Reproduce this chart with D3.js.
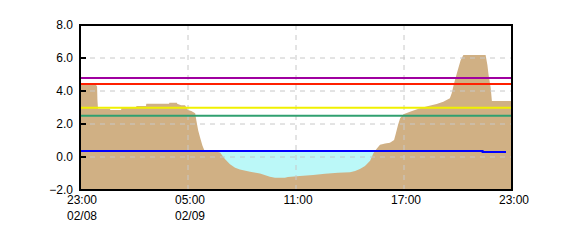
<!DOCTYPE html>
<html>
  <head>
    <meta charset="UTF-8">
    <title>Water level</title>
    <script src="https://cdn.jsdelivr.net/npm/d3@7"></script>
    <style>
      body { margin: 0; background: #fff; }
      text { font-family: "Liberation Sans", Arial, sans-serif; font-size: 12px; fill: #000; }
    </style>
  </head>
  <body>
    <svg width="570" height="250"></svg>
    <script>
    // observed level (tan area)
    var levelTimes = ["02/08 23:00","02/08 23:53","02/08 23:57","02/08 23:58","02/09 00:00","02/09 00:40",
      "02/09 00:41","02/09 01:17","02/09 01:18","02/09 02:07","02/09 02:08","02/09 02:40","02/09 02:41",
      "02/09 03:57","02/09 03:58","02/09 04:23","02/09 04:24","02/09 04:37","02/09 04:50","02/09 05:00",
      "02/09 05:11","02/09 05:24","02/09 05:28","02/09 05:34","02/09 05:41","02/09 05:48","02/09 05:54",
      "02/09 06:33","02/09 06:47","02/09 07:03","02/09 07:20","02/09 07:37","02/09 07:53","02/09 08:27",
      "02/09 09:00","02/09 09:33","02/09 09:50","02/09 10:23","02/09 10:33","02/09 11:13","02/09 11:57",
      "02/09 12:37","02/09 13:20","02/09 14:00","02/09 14:17","02/09 14:33","02/09 14:50","02/09 15:07",
      "02/09 15:18","02/09 15:29","02/09 15:40","02/09 15:57","02/09 16:13","02/09 16:27","02/09 16:33",
      "02/09 16:40","02/09 16:47","02/09 16:58","02/09 17:20","02/09 17:53","02/09 18:21","02/09 18:49",
      "02/09 19:11","02/09 19:33","02/09 19:39","02/09 19:47","02/09 19:53","02/09 20:01","02/09 20:09",
      "02/09 20:18","02/09 21:32","02/09 21:38","02/09 21:42","02/09 21:49","02/09 21:53","02/09 23:00"];
    var levelValues = [4.38,4.38,4.28,3.5,2.93,2.93,
      2.85,2.85,2.97,2.97,3.09,3.09,3.23,
      3.23,3.29,3.29,3.23,3.13,3.13,2.85,
      2.79,2.65,2.2,1.6,1.13,0.69,0.42,
      0.33,0.28,-0.12,-0.44,-0.65,-0.75,-0.89,
      -1.0,-1.19,-1.25,-1.25,-1.21,-1.15,-1.09,
      -1.01,-0.95,-0.93,-0.85,-0.73,-0.55,-0.22,
      0.22,0.5,0.75,0.82,0.86,1.03,1.44,
      1.94,2.35,2.59,2.75,2.95,3.09,3.21,
      3.35,3.56,3.86,4.47,4.87,5.38,5.88,
      6.18,6.18,5.58,4.97,4.2,3.39,3.39];

    // reference line (blue)
    var refTimes = ["02/08 23:00","02/09 21:22","02/09 22:40"];
    var refValues = [0.37,0.31,0.31];

    // warning levels
    var warnValues = [4.79,4.42,2.99,2.5];
    var warnColors = ["#a000a0","#ff2000","#f0f000","#30a070"];

    var yTicks = [-2,0,2,4,6,8];
    var xTicks = ["02/08 23:00","02/09 05:00","02/09 11:00","02/09 17:00","02/09 23:00"];
    var xTimeLabels = ["23:00","05:00","11:00","17:00","23:00"];
    var xDateLabels = ["02/08","02/09","","",""];

    var parse = d3.timeParse("%m/%d %H:%M");

    var level = levelTimes.map(function(t, i) { return {t: parse(t), v: levelValues[i]}; });
    var ref = refTimes.map(function(t, i) { return {t: parse(t), v: refValues[i]}; });

    var svg = d3.select("svg"),
    margin = {top: 25, right: 58, bottom: 60, left: 80},
    width = +svg.attr("width") - margin.left - margin.right,
    height = +svg.attr("height") - margin.top - margin.bottom,
    g = svg.append("g").attr("transform", "translate(" + margin.left + "," + margin.top + ")");

    var x = d3.scaleTime()
    .domain([parse(xTicks[0]), parse(xTicks[xTicks.length - 1])])
    .range([0, width]);

    var y = d3.scaleLinear()
    .domain([-2, 8])
    .range([height, 0]);

    // cyan under the reference line, tan covers it where level is higher
    g.append("path")
    .datum(ref)
    .attr("fill", "#bbf8f8")
    .attr("d", d3.area().curve(d3.curveStepAfter)
      .x(function(d) { return x(d.t); })
      .y0(height)
      .y1(function(d) { return y(d.v); }));

    g.append("path")
    .datum(level)
    .attr("fill", "#d0b084")
    .attr("d", d3.area()
      .x(function(d) { return x(d.t); })
      .y0(height)
      .y1(function(d) { return y(d.v); }));

    // grid
    g.selectAll(".hgrid")
    .data(yTicks.slice(1, -1))
    .enter().append("line")
    .attr("x1", 0).attr("x2", width)
    .attr("y1", function(d) { return y(d); })
    .attr("y2", function(d) { return y(d); })
    .attr("stroke", "#c8c8c8")
    .attr("stroke-dasharray", "5,5");

    g.selectAll(".vgrid")
    .data(xTicks.slice(1, -1))
    .enter().append("line")
    .attr("x1", function(d) { return x(parse(d)); })
    .attr("x2", function(d) { return x(parse(d)); })
    .attr("y1", 0).attr("y2", height)
    .attr("stroke", "#c8c8c8")
    .attr("stroke-dasharray", "5,5");

    // warning levels
    g.selectAll(".warn")
    .data(warnValues)
    .enter().append("line")
    .attr("x1", 0).attr("x2", width)
    .attr("y1", function(d) { return y(d); })
    .attr("y2", function(d) { return y(d); })
    .attr("stroke", function(d, i) { return warnColors[i]; })
    .attr("stroke-width", 2);

    g.append("path")
    .datum(ref)
    .attr("fill", "none")
    .attr("stroke", "#0000ff")
    .attr("stroke-width", 2)
    .attr("d", d3.line().curve(d3.curveStepAfter)
      .x(function(d) { return x(d.t); })
      .y(function(d) { return y(d.v); }));

    // y tick marks inside the frame
    g.selectAll(".ytick")
    .data(yTicks)
    .enter().append("line")
    .attr("x1", 0).attr("x2", 6)
    .attr("y1", function(d) { return y(d); })
    .attr("y2", function(d) { return y(d); })
    .attr("stroke", "#000")
    .attr("stroke-width", 2);

    g.append("rect")
    .attr("width", width).attr("height", height)
    .attr("fill", "none")
    .attr("stroke", "#000")
    .attr("stroke-width", 2);

    g.selectAll(".ylabel")
    .data(yTicks)
    .enter().append("text")
    .attr("x", -7)
    .attr("y", function(d) { return y(d); })
    .attr("dy", "0.35em")
    .attr("text-anchor", "end")
    .text(function(d) { return d3.format(".1f")(d); });

    var xl = g.selectAll(".xlabel")
    .data(xTicks)
    .enter().append("text")
    .attr("text-anchor", "middle")
    .attr("transform", function(d) { return "translate(" + (x(parse(d)) + 2) + "," + height + ")"; });

    xl.append("tspan").attr("x", 0).attr("y", 14)
    .text(function(d, i) { return xTimeLabels[i]; });
    xl.append("tspan").attr("x", 0).attr("y", 30)
    .text(function(d, i) { return xDateLabels[i]; });
    </script>
  </body>
</html>
